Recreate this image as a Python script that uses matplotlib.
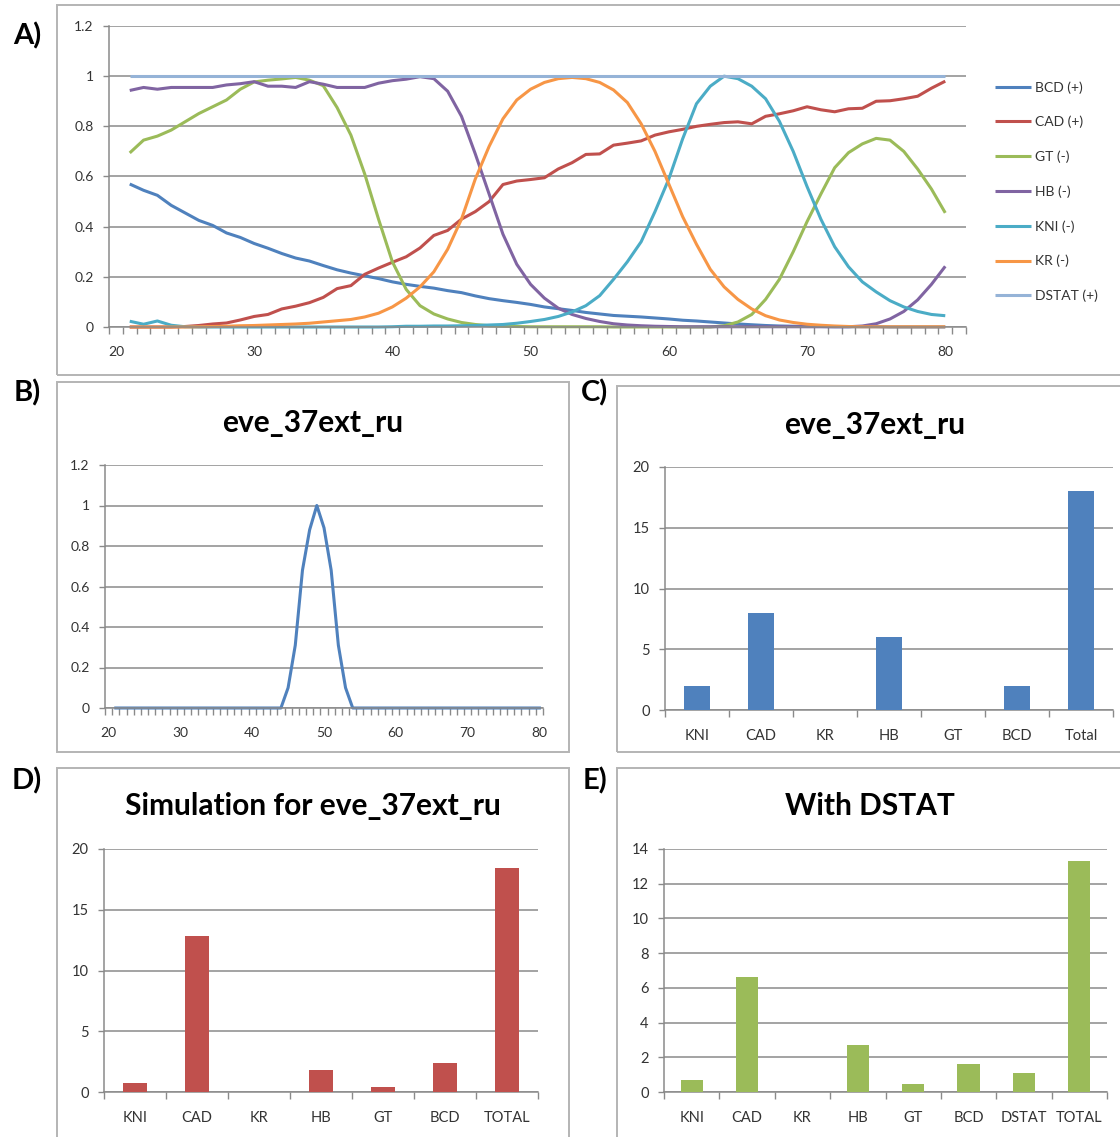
import numpy as np
import matplotlib
matplotlib.use("Agg")
import matplotlib.pyplot as plt
from matplotlib.patches import Rectangle
from matplotlib.ticker import FixedLocator, FuncFormatter

plt.rcParams['font.family'] = ['Lato', 'DejaVu Sans']

# ---------------- data ----------------
positions = list(range(21, 81))

bcd = [0.57, 0.545, 0.525, 0.485, 0.455, 0.425, 0.405, 0.375, 0.357, 0.333,
       0.314, 0.293, 0.275, 0.263, 0.245, 0.228, 0.215, 0.204, 0.193, 0.18,
       0.17, 0.162, 0.155, 0.145, 0.137, 0.124, 0.113, 0.105, 0.098, 0.09,
       0.08, 0.073, 0.066, 0.058, 0.052, 0.046, 0.043, 0.04, 0.036, 0.032,
       0.027, 0.024, 0.02, 0.016, 0.012, 0.009, 0.006, 0.004, 0.003, 0.002,
       0.002, 0.001, 0.001, 0.001, 0.001, 0.0, 0.0, 0.0, 0.0, 0.0]

cad = [0.0, 0.0, 0.0, 0.0, 0.002, 0.006, 0.012, 0.016, 0.028, 0.042,
       0.05, 0.072, 0.083, 0.097, 0.118, 0.153, 0.165, 0.21, 0.235, 0.258,
       0.28, 0.315, 0.365, 0.385, 0.43, 0.46, 0.5, 0.568, 0.582, 0.588,
       0.595, 0.63, 0.655, 0.688, 0.69, 0.725, 0.733, 0.742, 0.765, 0.778,
       0.788, 0.8, 0.808, 0.815, 0.818, 0.81, 0.84, 0.85, 0.862, 0.878,
       0.866, 0.858, 0.87, 0.872, 0.9, 0.902, 0.91, 0.92, 0.952, 0.98]

gt = [0.694, 0.745, 0.761, 0.785, 0.818, 0.851, 0.878, 0.905, 0.948, 0.977,
      0.984, 0.989, 0.995, 0.984, 0.962, 0.875, 0.765, 0.61, 0.43, 0.26,
      0.15, 0.085, 0.052, 0.032, 0.018, 0.01, 0.005, 0.003, 0.002, 0.001,
      0.001, 0.001, 0.001, 0.001, 0.001, 0.0, 0.0, 0.0, 0.0, 0.0,
      0.0, 0.0, 0.0, 0.005, 0.02, 0.05, 0.11, 0.19, 0.3, 0.42,
      0.53, 0.635, 0.695, 0.73, 0.752, 0.745, 0.7, 0.63, 0.55, 0.455]

hb = [0.943, 0.955, 0.948, 0.955, 0.955, 0.955, 0.955, 0.965, 0.97, 0.978,
      0.96, 0.96, 0.955, 0.978, 0.968, 0.955, 0.955, 0.955, 0.972, 0.982,
      0.988, 0.998, 0.99, 0.94, 0.84, 0.69, 0.53, 0.37, 0.25, 0.17,
      0.115, 0.075, 0.05, 0.034, 0.022, 0.013, 0.008, 0.005, 0.003, 0.002,
      0.001, 0.001, 0.001, 0.001, 0.001, 0.001, 0.001, 0.001, 0.001, 0.001,
      0.001, 0.001, 0.001, 0.004, 0.013, 0.032, 0.062, 0.108, 0.17, 0.242]

kni = [0.023, 0.011, 0.024, 0.007, 0.001, 0.0, 0.0, 0.0, 0.0, 0.0,
       0.0, 0.0, 0.0, 0.0, 0.0, 0.0, 0.0, 0.0, 0.0, 0.001,
       0.003, 0.003, 0.004, 0.004, 0.005, 0.006, 0.008, 0.01, 0.015, 0.022,
       0.03, 0.042, 0.06, 0.085, 0.125, 0.19, 0.26, 0.34, 0.46, 0.59,
       0.75, 0.89, 0.96, 1.0, 0.99, 0.96, 0.91, 0.82, 0.7, 0.56,
       0.43, 0.32, 0.24, 0.18, 0.14, 0.105, 0.08, 0.062, 0.05, 0.045]

kr = [0.0, 0.0, 0.0, 0.0, 0.0, 0.001, 0.002, 0.003, 0.005, 0.006,
      0.008, 0.01, 0.012, 0.015, 0.02, 0.025, 0.03, 0.04, 0.055, 0.08,
      0.115, 0.16, 0.22, 0.31, 0.43, 0.59, 0.72, 0.83, 0.905, 0.948,
      0.975, 0.99, 0.995, 0.99, 0.975, 0.945, 0.895, 0.81, 0.7, 0.57,
      0.44, 0.33, 0.23, 0.16, 0.11, 0.072, 0.045, 0.028, 0.018, 0.011,
      0.007, 0.004, 0.002, 0.001, 0.001, 0.001, 0.001, 0.001, 0.001, 0.001]

dstat = [1.0] * 60

series_names = ['BCD (+)', 'CAD (+)', 'GT (-)', 'HB (-)', 'KNI (-)', 'KR (-)', 'DSTAT (+)']
series_values = [bcd, cad, gt, hb, kni, kr, dstat]
series_colors = ['#4F81BD', '#C0504D', '#9BBB59', '#8064A2', '#4BACC6', '#F79646', '#95B3D7']

# expression profile of eve_37ext_ru
eve_expr = [0.0] * 24 + [0.1, 0.31, 0.68, 0.88, 1.0, 0.89, 0.68, 0.31, 0.1] + [0.0] * 27

c_labels = ['KNI', 'CAD', 'KR', 'HB', 'GT', 'BCD', 'Total']
c_values = [2, 8, 0, 6, 0, 2, 18]

d_labels = ['KNI', 'CAD', 'KR', 'HB', 'GT', 'BCD', 'TOTAL']
d_values = [0.75, 12.8, 0, 1.8, 0.38, 2.4, 18.4]

e_labels = ['KNI', 'CAD', 'KR', 'HB', 'GT', 'BCD', 'DSTAT', 'TOTAL']
e_values = [0.67, 6.6, 0, 2.7, 0.44, 1.6, 1.1, 13.3]

# ---------------- layout helpers ----------------
W, H = 1120, 1137
fig = plt.figure(figsize=(W / 100, H / 100), dpi=100)

GRID = '#8a8a8a'
TXT = '#333333'
FRAME = '#b4b4b4'


def box(x0, y0, x1, y1):
    return [x0 / W, 1 - y1 / H, (x1 - x0) / W, (y1 - y0) / H]


def frame(x0, y0, x1, y1):
    fig.add_artist(Rectangle((x0 / W, 1 - y1 / H), (x1 - x0) / W, (y1 - y0) / H,
                             transform=fig.transFigure, fill=False,
                             edgecolor=FRAME, linewidth=1.4, clip_on=False))


def panel_label(x, y, s):
    fig.text(x / W, 1 - y / H, s, fontsize=21, fontweight='bold',
             ha='center', va='center', color='black')


def title(x, y, s):
    fig.text(x / W, 1 - y / H, s, fontsize=21.5, fontweight='bold',
             ha='center', va='center', color='black')


def excel_style(ax, fs=10.5):
    for s in ('top', 'right'):
        ax.spines[s].set_visible(False)
    for s in ('left', 'bottom'):
        ax.spines[s].set_color(GRID)
        ax.spines[s].set_linewidth(1.1)
    ax.yaxis.grid(True, color=GRID, linewidth=1.1)
    ax.set_axisbelow(True)
    ax.tick_params(axis='y', length=4, width=1.0, color=GRID, labelcolor=TXT,
                   labelsize=fs, pad=7)
    ax.tick_params(axis='x', which='major', length=0, labelcolor=TXT,
                   labelsize=fs, pad=14)
    ax.tick_params(axis='x', which='minor', length=5, width=1.0, color=GRID,
                   direction='out')
    ax.yaxis.set_major_formatter(FuncFormatter(lambda v, p: f'{v:g}'))


# ---------------- A) regulator profiles ----------------
frame(57, 5, 1130, 375)
panel_label(27, 36, 'A)')
axA = fig.add_axes(box(109, 26, 966, 327))
handles = []
for name, vals, col in zip(series_names, series_values, series_colors):
    h, = axA.plot(positions, vals, color=col, linewidth=2.2, label=name,
                  solid_capstyle='butt', clip_on=False)
    handles.append(h)
axA.set_xlim(19.5, 81.5)
axA.set_ylim(0, 1.2)
axA.set_yticks(np.arange(0, 1.21, 0.2))
axA.set_xticks(range(20, 81, 10))
axA.xaxis.set_minor_locator(FixedLocator(np.arange(19.5, 81.6, 1.0)))
excel_style(axA, fs=10)
fig.legend(handles=handles, loc='upper left', bbox_to_anchor=(995 / W, 1 - 81 / H),
           frameon=False, fontsize=10, handlelength=2.6, handletextpad=0.3,
           labelspacing=1.6, borderpad=0, borderaxespad=0, labelcolor=TXT)

# ---------------- B) eve_37ext_ru expression ----------------
frame(57, 382, 569, 752)
panel_label(27, 393, 'B)')
title(313, 423, 'eve_37ext_ru')
axB = fig.add_axes(box(105, 465, 543, 708))
axB.plot(positions, eve_expr, color='#4F81BD', linewidth=2.2, clip_on=False)
axB.set_xlim(19.5, 80.5)
axB.set_ylim(0, 1.2)
axB.set_yticks(np.arange(0, 1.21, 0.2))
axB.set_xticks(range(20, 81, 10))
axB.xaxis.set_minor_locator(FixedLocator(np.arange(19.5, 80.6, 1.0)))
excel_style(axB, fs=10)


# ---------------- bar panels ----------------
def bar_panel(rect, labels, values, color, ymax, ystep):
    ax = fig.add_axes(rect)
    xs = np.arange(len(labels))
    ax.bar(xs, values, width=0.4, color=color, zorder=3)
    ax.set_xlim(-0.5, len(labels) - 0.5)
    ax.set_ylim(0, ymax)
    ax.set_yticks(np.arange(0, ymax + 0.01, ystep))
    ax.set_xticks(xs)
    ax.set_xticklabels(labels)
    ax.xaxis.set_minor_locator(FixedLocator(np.arange(-0.5, len(labels), 1.0)))
    excel_style(ax, fs=10.5)
    return ax


frame(617, 386, 1130, 752)
panel_label(595, 393, 'C)')
title(875, 425, 'eve_37ext_ru')
bar_panel(box(665, 467, 1113, 710), c_labels, c_values, '#4F81BD', 20, 5)

frame(57, 768, 569, 1145)
panel_label(27, 781, 'D)')
title(313, 806, 'Simulation for eve_37ext_ru')
bar_panel(box(104, 849, 538, 1092), d_labels, d_values, '#C0504D', 20, 5)

frame(617, 768, 1130, 1145)
panel_label(595, 781, 'E)')
title(870, 806, 'With DSTAT')
bar_panel(box(664, 849, 1107, 1092), e_labels, e_values, '#9BBB59', 14, 2)

fig.savefig('out.png', dpi=100)
